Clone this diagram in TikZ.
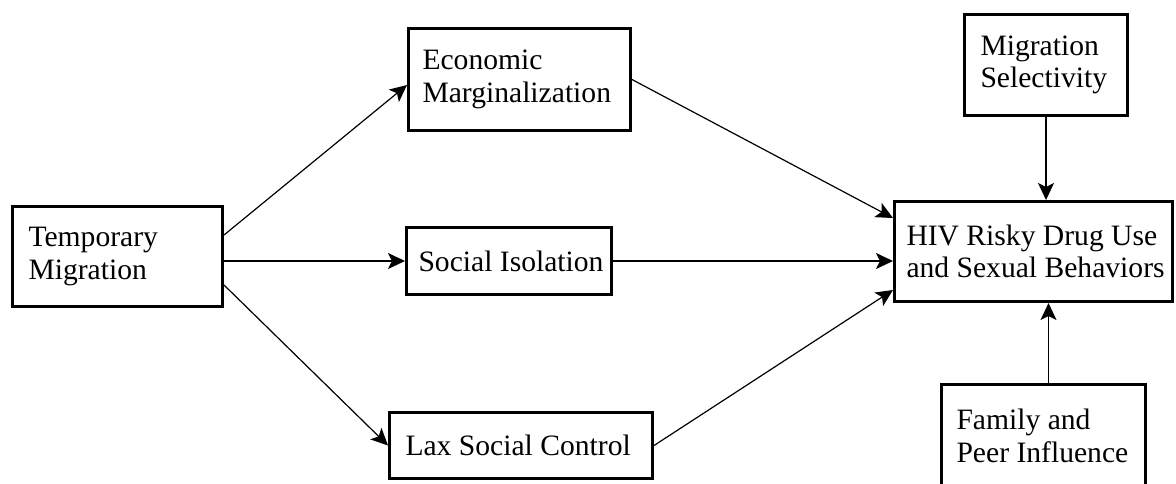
\documentclass[tikz,border=0pt]{standalone}
\usepackage{fontspec}
\setmainfont{Liberation Serif}
\usetikzlibrary{arrows.meta,calc}
\tikzset{
  boxnode/.style={draw, line width=1.5pt, rectangle, align=flush left, inner xsep=8pt,
    font=\fontsize{14.8pt}{16.3pt}\selectfont},
  conn/.style={line width=0.6pt, -{Stealth[length=8.5pt,width=8pt,inset=2pt]}}
}
\begin{document}
\begin{tikzpicture}[x=0.5pt,y=-0.5pt]
\useasboundingbox (0,0) rectangle (1176,483);
\node[boxnode, text width=89pt, minimum height=50pt] (temp) at (117.5,256.5) {Temporary\\Migration};
\node[boxnode, inner xsep=7pt, text width=97pt, minimum height=51pt] (econ) at (519.5,79.5) {\mbox{Economic}\\\mbox{Marginalization}};
\node[boxnode, inner xsep=6pt, text width=90.5pt, minimum height=33.5pt] (social) at (509,261) {\mbox{Social Isolation}};
\node[boxnode, text width=115.5pt, minimum height=33pt] (lax) at (521,445.5) {\mbox{Lax Social Control}};
\node[boxnode, text width=65.5pt, minimum height=50.5pt] (ms) at (1046,65) {\mbox{Migration}\\\mbox{Selectivity}};
\node[boxnode, inner xsep=3pt, text width=133pt, minimum height=50pt] (hiv) at (1033.5,251.5) {\hspace*{3pt}\mbox{HIV Risky Drug Use}\\\hspace*{3pt}\mbox{and Sexual Behaviors}};
\node[boxnode, inner xsep=6pt, text width=90pt, minimum height=51.5pt] (family) at (1043.5,436) {\hspace*{1.5pt}\mbox{Family and}\\\hspace*{1.5pt}\mbox{Peer Influence}};

\draw[conn] ($(temp.east)+(0,-21.5)$) -- ($(econ.west)+(0,5.5)$);
\draw[conn] (social.west -| temp.east) -- (social.west);
\draw[conn] ($(temp.east)+(0,28.5)$) -- (lax.west);
\draw[conn] (econ.east) -- ($(hiv.west)+(0,-33.5)$);
\draw[conn] (social.east) -- (social.east -| hiv.west);
\draw[conn] (lax.east) -- ($(hiv.west)+(0,38.5)$);
\draw[conn] (ms.south) -- (ms.south |- hiv.north);
\coordinate (fup) at ($(family.north)+(5,0)$);
\draw[conn] (fup) -- (fup |- hiv.south);
\end{tikzpicture}
\end{document}
